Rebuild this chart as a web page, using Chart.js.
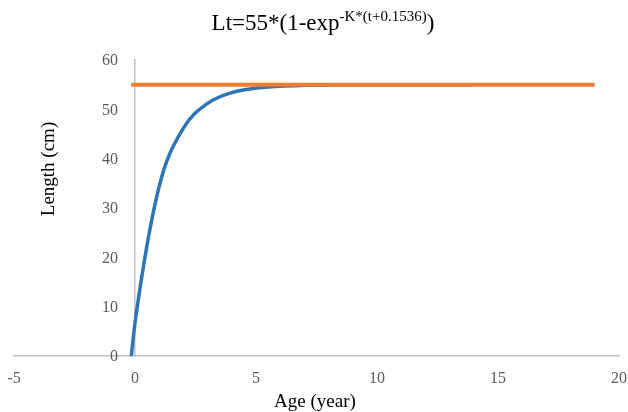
<!DOCTYPE html>
<html>
<head>
<meta charset="utf-8">
<script src="https://cdn.jsdelivr.net/npm/chart.js@4/dist/chart.umd.min.js"></script>
<style>
  html, body { margin: 0; padding: 0; background: #fff; }
  canvas { display: block; }
</style>
</head>
<body>
<canvas id="growth-chart" width="628" height="412"></canvas>
<script>
// Data
var ages = [-0.1536, 0, 1, 2, 3, 4, 5, 6, 7, 8, 9, 10, 11, 12, 13, 14];
var lengths = [0, 6.7, 34.4, 46.2, 51.2, 53.4, 54.3, 54.7, 54.87, 54.95, 54.98, 55, 55, 55, 55, 55];
var asymptoteAges = [-0.1536, 19];
var asymptoteLengths = [55, 55];
var xTicks = [-5, 0, 5, 10, 15, 20];
var yTicks = [0, 10, 20, 30, 40, 50, 60];

function toPoints(xs, ys) {
    return xs.map(function (x, i) { return { x: x, y: ys[i] }; });
}

var serif = '"Liberation Serif", "Times New Roman", serif';
var tickColor = '#595959';
var axisColor = '#bfbfbf';

// Title with superscript, axis titles and tick labels next to the crossing axes
var textPlugin = {
    id: 'texts',
    afterDraw: function (chart) {
        var ctx = chart.ctx;
        var xs = chart.scales.x;
        var ys = chart.scales.y;
        ctx.save();

        // tick labels
        ctx.fillStyle = tickColor;
        ctx.font = '16px ' + serif;
        var x0 = xs.getPixelForValue(0);
        var y0 = ys.getPixelForValue(0);
        ctx.textAlign = 'right';
        ctx.textBaseline = 'middle';
        yTicks.forEach(function (v) {
            ctx.fillText(String(v), x0 - 17, ys.getPixelForValue(v) + 1);
        });
        ctx.textAlign = 'center';
        ctx.textBaseline = 'top';
        xTicks.forEach(function (v) {
            ctx.fillText(String(v), xs.getPixelForValue(v), y0 + 15);
        });

        // title
        ctx.fillStyle = '#000';
        ctx.textBaseline = 'alphabetic';
        ctx.textAlign = 'left';
        var main = 'Lt=55*(1-exp';
        var sup = '-K*(t+0.1536)';
        var close = ')';
        var mainFont = '23px ' + serif;
        var supFont = '15px ' + serif;
        ctx.font = mainFont;
        var w1 = ctx.measureText(main).width;
        var w3 = ctx.measureText(close).width;
        ctx.font = supFont;
        var w2 = ctx.measureText(sup).width;
        var x = 323 - (w1 + w2 + w3) / 2;
        ctx.font = mainFont;
        ctx.fillText(main, x, 30);
        ctx.font = supFont;
        ctx.fillText(sup, x + w1, 21);
        ctx.font = mainFont;
        ctx.fillText(close, x + w1 + w2, 30);

        // axis titles
        ctx.font = '19px ' + serif;
        ctx.textAlign = 'center';
        ctx.textBaseline = 'middle';
        ctx.fillText('Age (year)', 315, 402);
        ctx.translate(49, 169);
        ctx.rotate(-Math.PI / 2);
        ctx.fillText('Length (cm)', 0, 0);
        ctx.restore();
    }
};

var ctx = document.getElementById('growth-chart').getContext('2d');
var growthChart = new Chart(ctx, {
    type: 'line',
    data: {
        datasets: [
            {
                label: 'Asymptote',
                data: toPoints(asymptoteAges, asymptoteLengths),
                borderColor: '#ed7d31',
                borderWidth: 4,
                pointRadius: 0,
                order: 0,
            },
            {
                label: 'Lt',
                data: toPoints(ages, lengths),
                borderColor: '#2e75b6',
                borderWidth: 3.5,
                pointRadius: 0,
                cubicInterpolationMode: 'monotone',
                order: 1,
            },
        ],
    },
    options: {
        responsive: false,
        animation: false,
        layout: { padding: { left: 14, right: 9, top: 60, bottom: 56 } },
        plugins: {
            legend: { display: false },
            title: { display: false },
            tooltip: { enabled: false },
        },
        scales: {
            x: {
                type: 'linear',
                min: -5,
                max: 20,
                position: { y: 0 },
                afterBuildTicks: function (scale) {
                    scale.ticks = xTicks.map(function (v) { return { value: v }; });
                },
                ticks: { display: false },
                grid: { color: 'rgba(0,0,0,0)', drawTicks: false },
                border: { color: axisColor, width: 1.5 },
            },
            y: {
                type: 'linear',
                min: 0,
                max: 60,
                position: { x: 0 },
                afterBuildTicks: function (scale) {
                    scale.ticks = yTicks.map(function (v) { return { value: v }; });
                },
                ticks: { display: false },
                grid: { color: 'rgba(0,0,0,0)', drawTicks: false },
                border: { color: axisColor, width: 1.5 },
            },
        },
    },
    plugins: [textPlugin],
});
</script>
</body>
</html>
